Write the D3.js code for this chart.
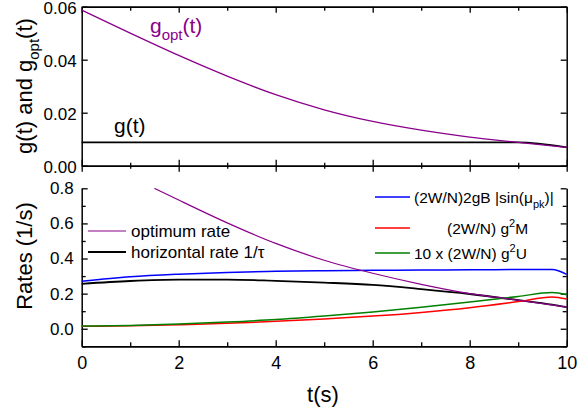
<!DOCTYPE html>
<html>
<head>
<meta charset="utf-8">
<script src="https://cdn.jsdelivr.net/npm/d3@7"></script>
<style>
body { margin: 0; background: #fff; }
svg { font-family: "Liberation Sans", Arial, sans-serif; }
</style>
</head>
<body>
<svg id="viz"></svg>
<script>
// values

// top panel: g(t) and g_opt(t)
var topT = [0, 1, 2, 3, 4, 5, 6, 7, 8, 9, 10]
var gOpt = [0.0587, 0.0500, 0.0416, 0.0338, 0.0268, 0.0211, 0.0167, 0.0134, 0.0108, 0.0088, 0.0069]
var gFix = [0.0088, 0.0088, 0.0088, 0.0088, 0.0088, 0.0088, 0.0088, 0.0088, 0.0088, 0.0088, 0.0069]

// bottom panel: rates
var optT = [1.5, 2, 3, 4, 5, 6, 7, 8, 9, 10]
var optRate = [0.80, 0.733, 0.603, 0.486, 0.39, 0.316, 0.253, 0.200, 0.163, 0.123]

var rateT = [0, 1, 2, 3, 4, 5, 6, 7, 8, 9, 9.7, 10]
var horizRate = [0.256, 0.272, 0.280, 0.280, 0.273, 0.263, 0.250, 0.226, 0.198, 0.163, 0.137, 0.123]
var sinRate = [0.270, 0.296, 0.311, 0.321, 0.327, 0.331, 0.333, 0.334, 0.336, 0.337, 0.338, 0.310]
var mRate = [0.014, 0.017, 0.023, 0.031, 0.042, 0.056, 0.072, 0.093, 0.120, 0.155, 0.181, 0.169]
var uRate = [0.015, 0.019, 0.027, 0.038, 0.052, 0.072, 0.095, 0.122, 0.152, 0.184, 0.206, 0.194]

var xTicks = [0, 2, 4, 6, 8, 10]
var xMinor = [1, 3, 5, 7, 9]
var topTicks = [0, 0.02, 0.04, 0.06]
var botTicks = [0, 0.2, 0.4, 0.6, 0.8]
var botMinor = [-0.1, 0.1, 0.3, 0.5, 0.7]

var width = 577
var height = 415

var svg = d3.select("#viz")
	.attr("width", width)
	.attr("height", height)

var x = d3.scaleLinear().domain([0, 10]).range([81.7, 566.7])
var yTop = d3.scaleLinear().domain([0, 0.06]).range([165.7, 6.7])
var yBot = d3.scaleLinear().domain([-0.1, 0.8]).range([346.3, 188.3])

function styleAxis(g, fontSize) {
	g.select(".domain").attr("stroke", "#000").attr("stroke-width", 1.5)
	g.selectAll(".tick line").attr("stroke", "#000").attr("stroke-width", 1.3)
	g.selectAll("text").attr("font-size", fontSize).attr("fill", "#000")
		.attr("font-family", "'Liberation Sans', Arial, sans-serif")
}

// ---------- top panel ----------

// left axis
var g1 = svg.append("g").attr("transform", "translate(" + x(0) + ",0)")
	.call(d3.axisLeft(yTop).tickValues(topTicks).tickFormat(d3.format(".2f")).tickSizeInner(-6).tickSizeOuter(0).tickPadding(5))
styleAxis(g1, 17)
g1.selectAll("text").attr("dy", "0.38em")

// right axis
var g2 = svg.append("g").attr("transform", "translate(" + x(10) + ",0)")
	.call(d3.axisRight(yTop).tickValues(topTicks).tickFormat("").tickSizeInner(-6).tickSizeOuter(0))
styleAxis(g2, 17)

// top edge, ticks pointing down
var g3 = svg.append("g").attr("transform", "translate(0," + yTop(0.06) + ")")
	.call(d3.axisTop(x).tickValues(xTicks).tickFormat("").tickSizeInner(-6).tickSizeOuter(0))
styleAxis(g3, 17)
var g3m = svg.append("g").attr("transform", "translate(0," + yTop(0.06) + ")")
	.call(d3.axisTop(x).tickValues(xMinor).tickFormat("").tickSizeInner(-4).tickSizeOuter(0))
styleAxis(g3m, 17)

// bottom edge, ticks crossing the line
var g4 = svg.append("g").attr("transform", "translate(0," + yTop(0) + ")")
	.call(d3.axisBottom(x).tickValues(xTicks).tickFormat("").tickSizeInner(6).tickSizeOuter(0))
styleAxis(g4, 17)
g4.selectAll(".tick line").attr("y1", -6).attr("y2", 6)
var g4m = svg.append("g").attr("transform", "translate(0," + yTop(0) + ")")
	.call(d3.axisBottom(x).tickValues(xMinor).tickFormat("").tickSizeInner(3).tickSizeOuter(0))
styleAxis(g4m, 17)
g4m.selectAll(".tick line").attr("y1", -3).attr("y2", 3)

var lineTop = d3.line()
	.x((d, i) => x(topT[i]))
	.y(d => yTop(d))
	.curve(d3.curveMonotoneX)

svg.append("path")
	.attr("d", lineTop(gFix))
	.attr("fill", "none")
	.attr("stroke", "#000")
	.attr("stroke-width", 1.6)

svg.append("path")
	.attr("d", lineTop(gOpt))
	.attr("fill", "none")
	.attr("stroke", "#8b008b")
	.attr("stroke-width", 1.3)

// labels in top panel
var lab1 = svg.append("text").attr("x", 150).attr("y", 33).attr("fill", "#8b008b").attr("font-size", 21)
lab1.append("tspan").text("g")
lab1.append("tspan").text("opt").attr("font-size", 15).attr("dy", 7)
lab1.append("tspan").text("(t)").attr("dy", -7)

svg.append("text").attr("x", 114).attr("y", 133).attr("font-size", 21).text("g(t)")

var ttl1 = svg.append("text")
	.attr("transform", "translate(32,86) rotate(-90)")
	.attr("text-anchor", "middle")
	.attr("font-size", 22)
ttl1.append("tspan").text("g(t) and g")
ttl1.append("tspan").text("opt").attr("font-size", 15).attr("dy", 7)
ttl1.append("tspan").text("(t)").attr("dy", -7)

// ---------- bottom panel ----------

var b1 = svg.append("g").attr("transform", "translate(" + x(0) + ",0)")
	.call(d3.axisLeft(yBot).tickValues(botTicks).tickFormat(d3.format(".1f")).tickSizeInner(-6).tickSizeOuter(0).tickPadding(8))
styleAxis(b1, 17)
var b1m = svg.append("g").attr("transform", "translate(" + x(0) + ",0)")
	.call(d3.axisLeft(yBot).tickValues(botMinor).tickFormat("").tickSizeInner(-4).tickSizeOuter(0))
styleAxis(b1m, 17)
b1m.select(".domain").remove()

var b2 = svg.append("g").attr("transform", "translate(" + x(10) + ",0)")
	.call(d3.axisRight(yBot).tickValues(botTicks).tickFormat("").tickSizeInner(-6).tickSizeOuter(0))
styleAxis(b2, 17)
var b2m = svg.append("g").attr("transform", "translate(" + x(10) + ",0)")
	.call(d3.axisRight(yBot).tickValues(botMinor).tickFormat("").tickSizeInner(-4).tickSizeOuter(0))
styleAxis(b2m, 17)
b2m.select(".domain").remove()

var b3 = svg.append("g").attr("transform", "translate(0," + yBot(-0.1) + ")")
	.call(d3.axisBottom(x).tickValues(xTicks).tickFormat(d3.format("d")).tickSizeInner(-6).tickSizeOuter(0).tickPadding(10))
styleAxis(b3, 18)
var b3m = svg.append("g").attr("transform", "translate(0," + yBot(-0.1) + ")")
	.call(d3.axisBottom(x).tickValues(xMinor).tickFormat("").tickSizeInner(-4).tickSizeOuter(0))
styleAxis(b3m, 18)

var lineOpt = d3.line()
	.x((d, i) => x(optT[i]))
	.y(d => yBot(d))
	.curve(d3.curveMonotoneX)

var lineRate = d3.line()
	.x((d, i) => x(rateT[i]))
	.y(d => yBot(d))
	.curve(d3.curveMonotoneX)

var series = [
	{ vals: horizRate, color: "#000", w: 1.8 },
	{ vals: sinRate, color: "#0000ff", w: 1.5 },
	{ vals: mRate, color: "#ff0000", w: 1.5 },
	{ vals: uRate, color: "#008000", w: 1.5 }
]

for (let i = 0; i < series.length; i++) {
	svg.append("path")
		.attr("d", lineRate(series[i].vals))
		.attr("fill", "none")
		.attr("stroke", series[i].color)
		.attr("stroke-width", series[i].w)
}

svg.append("path")
	.attr("d", lineOpt(optRate))
	.attr("fill", "none")
	.attr("stroke", "#8b008b")
	.attr("stroke-width", 1.2)

// left legend
svg.append("line").attr("x1", 88).attr("x2", 126).attr("y1", 231).attr("y2", 231)
	.attr("stroke", "#8b008b").attr("stroke-width", 1.2)
svg.append("text").attr("x", 131).attr("y", 237).attr("font-size", 17).text("optimum rate")
svg.append("line").attr("x1", 88).attr("x2", 126).attr("y1", 252).attr("y2", 252)
	.attr("stroke", "#000").attr("stroke-width", 2)
svg.append("text").attr("x", 131).attr("y", 258).attr("font-size", 17).text("horizontal rate 1/\u03c4")

// right legend
svg.append("line").attr("x1", 375).attr("x2", 410).attr("y1", 197).attr("y2", 197)
	.attr("stroke", "#0000ff").attr("stroke-width", 1.5)
var lt1 = svg.append("text").attr("x", 414).attr("y", 202.5).attr("font-size", 15.5)
lt1.append("tspan").text("(2W/N)2gB |sin(\u03bc")
lt1.append("tspan").text("pk").attr("font-size", 11).attr("dy", 5)
lt1.append("tspan").text(")|").attr("dy", -5)

svg.append("line").attr("x1", 375).attr("x2", 410).attr("y1", 228).attr("y2", 228)
	.attr("stroke", "#ff0000").attr("stroke-width", 1.5)
var lt2 = svg.append("text").attr("x", 447).attr("y", 233.5).attr("font-size", 15.5)
lt2.append("tspan").text("(2W/N) g")
lt2.append("tspan").text("2").attr("font-size", 11).attr("dy", -7)
lt2.append("tspan").text("M").attr("dy", 7)

svg.append("line").attr("x1", 375).attr("x2", 410).attr("y1", 253).attr("y2", 253)
	.attr("stroke", "#008000").attr("stroke-width", 1.5)
var lt3 = svg.append("text").attr("x", 414).attr("y", 258.5).attr("font-size", 15.5)
lt3.append("tspan").text("10 x (2W/N) g")
lt3.append("tspan").text("2").attr("font-size", 11).attr("dy", -7)
lt3.append("tspan").text("U").attr("dy", 7)

// axis titles
svg.append("text")
	.attr("transform", "translate(32,256) rotate(-90)")
	.attr("text-anchor", "middle")
	.attr("font-size", 22)
	.text("Rates (1/s)")

svg.append("text")
	.attr("x", 323).attr("y", 402)
	.attr("text-anchor", "middle")
	.attr("font-size", 22)
	.text("t(s)")
</script>
</body>
</html>
